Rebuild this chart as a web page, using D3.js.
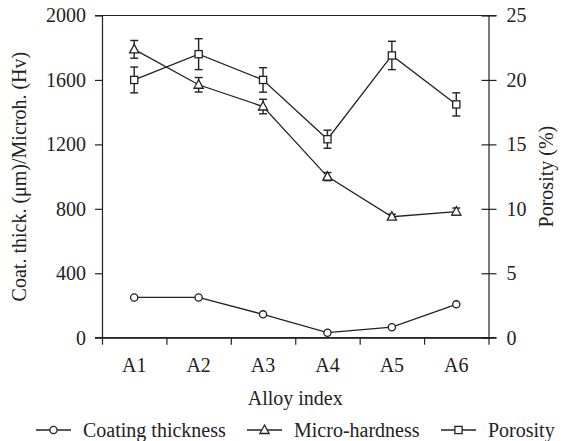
<!DOCTYPE html>
<html>
<head>
<meta charset="utf-8">
<script src="https://cdn.jsdelivr.net/npm/d3@7"></script>
<style>
  body { margin: 0; background: #fff; }
  svg text { font-family: "Liberation Serif", "Times New Roman", Times, serif !important; fill: #222; }
</style>
</head>
<body>
<svg id="chart"></svg>
<script>
var alloys = ["A1", "A2", "A3", "A4", "A5", "A6"];
var coatingThickness = [250, 250, 145, 31, 65, 207];
var microHardness = [1790, 1570, 1435, 1000, 751, 783];
var microHardnessErr = [55, 45, 45, 25, 15, 22];
var porosity = [20.0, 22.0, 20.0, 15.4, 21.9, 18.1];
var porosityErr = [1.0, 1.2, 0.95, 0.7, 1.1, 0.9];
var leftTicks = [0, 400, 800, 1200, 1600, 2000];
var rightTicks = [0, 5, 10, 15, 20, 25];

var width = 564, height = 441;
var margin = {top: 15.5, left: 102, right: 75.5, bottom: 103.3};
var ink = "#222";
var fs = "20px";
var serif = "'Liberation Serif', 'Times New Roman', Times, serif";

var svg = d3.select("#chart").attr("width", width).attr("height", height);

var x = d3.scaleBand().domain(alloys).range([margin.left, width - margin.right]);
var xb = d3.scaleLinear().domain([0, alloys.length]).range([margin.left, width - margin.right]);
var yL = d3.scaleLinear().domain([0, 2000]).range([height - margin.bottom, margin.top]);
var yR = d3.scaleLinear().domain([0, 25]).range([height - margin.bottom, margin.top]);
var cx = function (i) { return x(alloys[i]) + x.bandwidth() / 2; };

// axes
var gL = svg.append("g")
    .attr("transform", "translate(" + margin.left + ",0)")
    .call(d3.axisLeft(yL).tickValues(leftTicks).tickFormat(d3.format("d")).tickSize(7).tickSizeOuter(0).tickPadding(9));
var gR = svg.append("g")
    .attr("transform", "translate(" + (width - margin.right) + ",0)")
    .call(d3.axisRight(yR).tickValues(rightTicks).tickSize(8).tickSizeOuter(0).tickPadding(10));
gR.selectAll(".tick line").attr("x1", -7);
var gB = svg.append("g")
    .attr("transform", "translate(0," + (height - margin.bottom) + ")")
    .call(d3.axisBottom(xb).ticks(6).tickSize(7).tickSizeOuter(0).tickFormat(""));
var gX = svg.append("g")
    .attr("transform", "translate(0," + (height - margin.bottom) + ")")
    .call(d3.axisBottom(x).tickSize(0).tickPadding(20));
gX.select(".domain").remove();

svg.selectAll("g").attr("font-family", serif);
svg.selectAll(".domain, .tick line").attr("stroke", ink).attr("stroke-width", 1.2);
svg.selectAll(".tick text").style("font-size", fs).attr("fill", ink);

// top border and bottom extensions
svg.append("line")
    .attr("x1", margin.left - 7).attr("x2", width - margin.right + 8)
    .attr("y1", yL(2000)).attr("y2", yL(2000))
    .attr("stroke", ink).attr("stroke-width", 1.2);
svg.append("line")
    .attr("x1", margin.left - 7).attr("x2", width - margin.right + 8)
    .attr("y1", yL(0)).attr("y2", yL(0))
    .attr("stroke", ink).attr("stroke-width", 1.2);

// axis titles
svg.append("text")
    .attr("transform", "translate(26," + ((yL(0) + yL(2000)) / 2) + ") rotate(-90)")
    .attr("text-anchor", "middle")
    .style("font-size", fs)
    .text("Coat. thick. (\u03bcm)/Microh. (Hv)");
svg.append("text")
    .attr("transform", "translate(553," + ((yL(0) + yL(2000)) / 2) + ") rotate(-90)")
    .attr("text-anchor", "middle")
    .style("font-size", fs)
    .text("Porosity (%)");
svg.append("text")
    .attr("x", (margin.left + width - margin.right) / 2)
    .attr("y", 405)
    .attr("text-anchor", "middle")
    .style("font-size", fs)
    .text("Alloy index");

var lineL = d3.line().x(function (d, i) { return cx(i); }).y(function (d) { return yL(d); });
var lineR = d3.line().x(function (d, i) { return cx(i); }).y(function (d) { return yR(d); });

function errorBars(vals, errs, y) {
    var g = svg.append("g").attr("stroke", ink).attr("stroke-width", 1.4);
    vals.forEach(function (v, i) {
        var x0 = cx(i);
        g.append("line").attr("x1", x0).attr("x2", x0).attr("y1", y(v - errs[i])).attr("y2", y(v + errs[i]));
        [v - errs[i], v + errs[i]].forEach(function (e) {
            g.append("line").attr("x1", x0 - 4).attr("x2", x0 + 4).attr("y1", y(e)).attr("y2", y(e));
        });
    });
}

errorBars(microHardness, microHardnessErr, yL);
errorBars(porosity, porosityErr, yR);

[[coatingThickness, lineL], [microHardness, lineL], [porosity, lineR]].forEach(function (s) {
    svg.append("path").datum(s[0]).attr("d", s[1])
        .attr("fill", "none").attr("stroke", ink).attr("stroke-width", 1.3);
});

function marker(g, type, px, py) {
    if (type === "circle") {
        g.append("circle").attr("cx", px).attr("cy", py).attr("r", 3.6);
    } else if (type === "triangle") {
        g.append("path").attr("d", "M" + px + "," + (py - 5) + "L" + (px + 4.6) + "," + (py + 3.5) + "L" + (px - 4.6) + "," + (py + 3.5) + "Z");
    } else {
        g.append("rect").attr("x", px - 3.6).attr("y", py - 3.6).attr("width", 7.2).attr("height", 7.2);
    }
}

var mk = svg.append("g").attr("fill", "#fff").attr("stroke", ink).attr("stroke-width", 1.3);
coatingThickness.forEach(function (v, i) { marker(mk, "circle", cx(i), yL(v)); });
microHardness.forEach(function (v, i) { marker(mk, "triangle", cx(i), yL(v)); });
porosity.forEach(function (v, i) { marker(mk, "square", cx(i), yR(v)); });

// legend
var legendItems = [
    {name: "Coating thickness", type: "circle", x: 36},
    {name: "Micro-hardness", type: "triangle", x: 247},
    {name: "Porosity", type: "square", x: 441}
];
var lg = svg.append("g");
legendItems.forEach(function (d) {
    var ly = 430;
    lg.append("line").attr("x1", d.x).attr("x2", d.x + 35).attr("y1", ly).attr("y2", ly)
        .attr("stroke", ink).attr("stroke-width", 1.3);
    var m = lg.append("g").attr("fill", "#fff").attr("stroke", ink).attr("stroke-width", 1.3);
    marker(m, d.type, d.x + 17.5, ly);
    lg.append("text").attr("x", d.x + 47).attr("y", ly).attr("dy", "0.35em")
        .style("font-size", fs).text(d.name);
});
</script>
</body>
</html>
